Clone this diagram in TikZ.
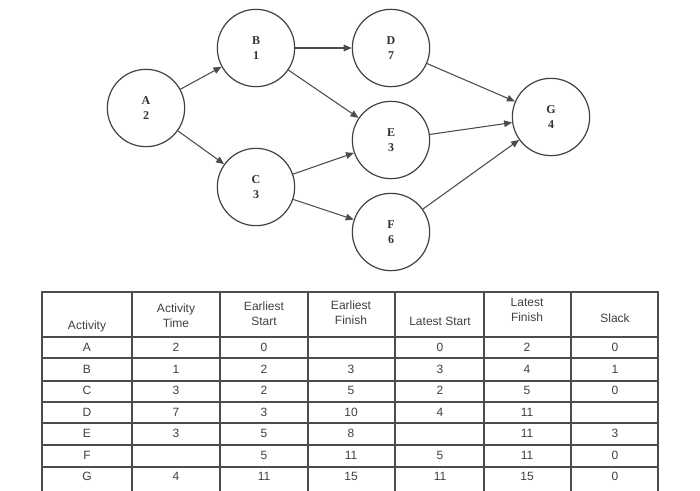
\documentclass[tikz,border=0pt]{standalone}
\usepackage{fontspec}
\setmainfont{Liberation Serif}
\newfontfamily\tabfont{Liberation Sans}
\usetikzlibrary{arrows.meta}
\begin{document}
\begin{tikzpicture}[x=0.75pt,y=-0.75pt,
  act/.style={circle,draw=black!75,line width=0.9pt,minimum size=58pt,inner sep=0pt,align=center,font=\small\bfseries,text=black!80},
  edge/.style={draw=black!70,line width=0.8pt,-{Triangle[length=6pt,width=5pt]}},
  cell/.style={font=\tabfont\small,text=black!75}]
\fill[white] (0,0) rectangle (700,490);
\useasboundingbox (0,0) rectangle (700,490);
\node[act] (A) at (146,108) {A\\2};
\node[act] (B) at (256,48) {B\\1};
\node[act] (C) at (256,187) {C\\3};
\node[act] (D) at (391,48) {D\\7};
\node[act] (E) at (391,140) {E\\3};
\node[act] (F) at (391,232) {F\\6};
\node[act] (G) at (551,117) {G\\4};
\foreach \a/\b in {A/B,A/C,B/D,B/E,C/E,C/F,D/G,E/G,F/G} \draw[edge] (\a) -- (\b);
\begin{scope}
\clip (0,0) rectangle (700,490);
\draw[black!70,line width=1pt] (42,292) rectangle (658,500);
\foreach \x in {132,220,308,395,484,571} \draw[black!70,line width=1pt] (\x,292) -- (\x,500);
\foreach \y in {337,358,381,402,423,445,467} \draw[black!70,line width=1pt] (42,\y) -- (658,\y);
\node[cell] (h1) at (87,326) {Activity};
\node[cell,align=center] (h2) at (176,316) {Activity\\Time};
\node[cell,align=center] (h3) at (264,314) {Earliest\\Start};
\node[cell,align=center] (h4) at (351,313) {Earliest\\Finish};
\node[cell] (h5) at (440,321) {Latest Start};
\node[cell,align=center] (h6) at (527,310) {Latest\\Finish};
\node[cell] (h7) at (615,318) {Slack};
\foreach \r/\row in {0/{A,2,0,,0,2,0},1/{B,1,2,3,3,4,1},2/{C,3,2,5,2,5,0},3/{D,7,3,10,4,11,},4/{E,3,5,8,,11,3},5/{F,,5,11,5,11,0},6/{G,4,11,15,11,15,0}}{
  \foreach \v [count=\c] in \row {
    \pgfmathsetmacro\cx{{87,176,264,351,440,527,615}[\c-1]}
    \node[cell] (t\r\c) at (\cx,{347.5+\r*21.5}) {\v};
  }
}
\end{scope}
\end{tikzpicture}
\end{document}
